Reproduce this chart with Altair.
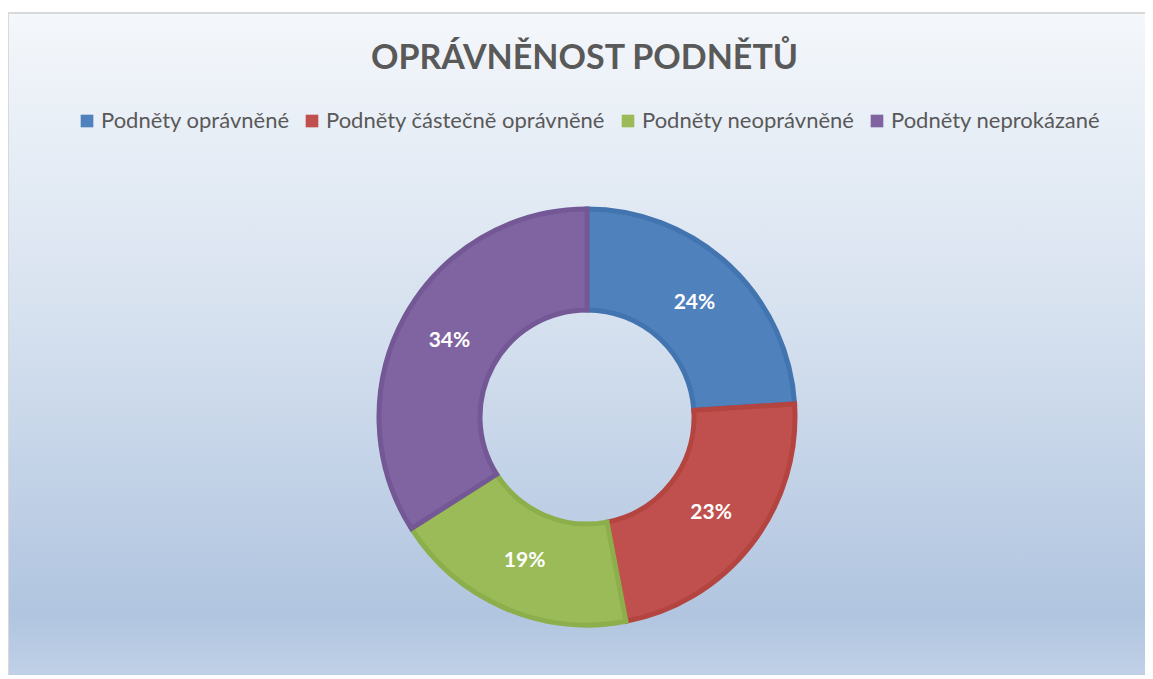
import altair as alt
import pandas as pd

categories = ["Podněty oprávněné", "Podněty částečně oprávněné", "Podněty neoprávněné", "Podněty neprokázané"]
values = [24, 23, 19, 34]
labels = ["24%", "23%", "19%", "34%"]
colors = ["#4f81bd", "#c0504d", "#9bbb59", "#8064a2"]
strokes = ["#4274b0", "#b4443f", "#8caf4b", "#735895"]

df = pd.DataFrame({"kategorie": categories, "hodnota": values, "popisek": labels,
                   "poradi": list(range(len(categories)))})

W, H = 1137, 662
CX, CY = 579, 404

bg = alt.Chart(pd.DataFrame({"a": [0]})).mark_rect(
    color=alt.Gradient(
        gradient="linear", x1=0, x2=0, y1=0, y2=1,
        stops=[alt.GradientStop(color="#f4f7fb", offset=0),
               alt.GradientStop(color="#d6e1ef", offset=0.45),
               alt.GradientStop(color="#b1c5e0", offset=0.88),
               alt.GradientStop(color="#c4d4e9", offset=1)]),
    stroke="#d9d9d9", strokeWidth=2
).encode(x=alt.value(0), x2=alt.value(W + 20), y=alt.value(0), y2=alt.value(H + 20))

base = alt.Chart(df).encode(
    theta=alt.Theta("hodnota:Q", stack=True),
    order=alt.Order("poradi:Q", sort="ascending"),
)

arcs = base.mark_arc(outerRadius=208, innerRadius=107, strokeWidth=5, strokeJoin="miter").encode(
    x=alt.value(CX), y=alt.value(CY),
    color=alt.Color("kategorie:N", scale=alt.Scale(domain=categories, range=colors),
                    sort=categories,
                    legend=alt.Legend(orient="none", legendX=68, legendY=97, direction="horizontal",
                                      title=None, symbolType="square", symbolSize=160,
                                      symbolStrokeWidth=0, labelFontSize=22, labelFont="Lato",
                                      labelColor="#595959", columnPadding=11, labelOffset=3,
                                      labelLimit=400, columns=4)),
    stroke=alt.Stroke("kategorie:N", scale=alt.Scale(domain=categories, range=strokes), legend=None),
)

text = base.mark_text(radius=157, font="Lato", fontWeight="bold", fontSize=21, color="white").encode(
    x=alt.value(CX), y=alt.value(CY),
    text="popisek:N",
)

chart = alt.layer(bg, arcs, text).properties(
    width=W, height=H,
    autosize=alt.AutoSizeParams(type="none"),
    padding={"top": 5, "left": 0, "right": 0, "bottom": 0},
    title=alt.TitleParams("OPRÁVNĚNOST PODNĚTŮ", font="Lato", fontSize=34, fontWeight="bold",
                          color="#595959", anchor="middle", offset=0, dy=64, dx=8),
).configure_view(stroke=None).configure(background="white")

chart.save("out.html", embed_options={"renderer": "svg", "actions": False})
